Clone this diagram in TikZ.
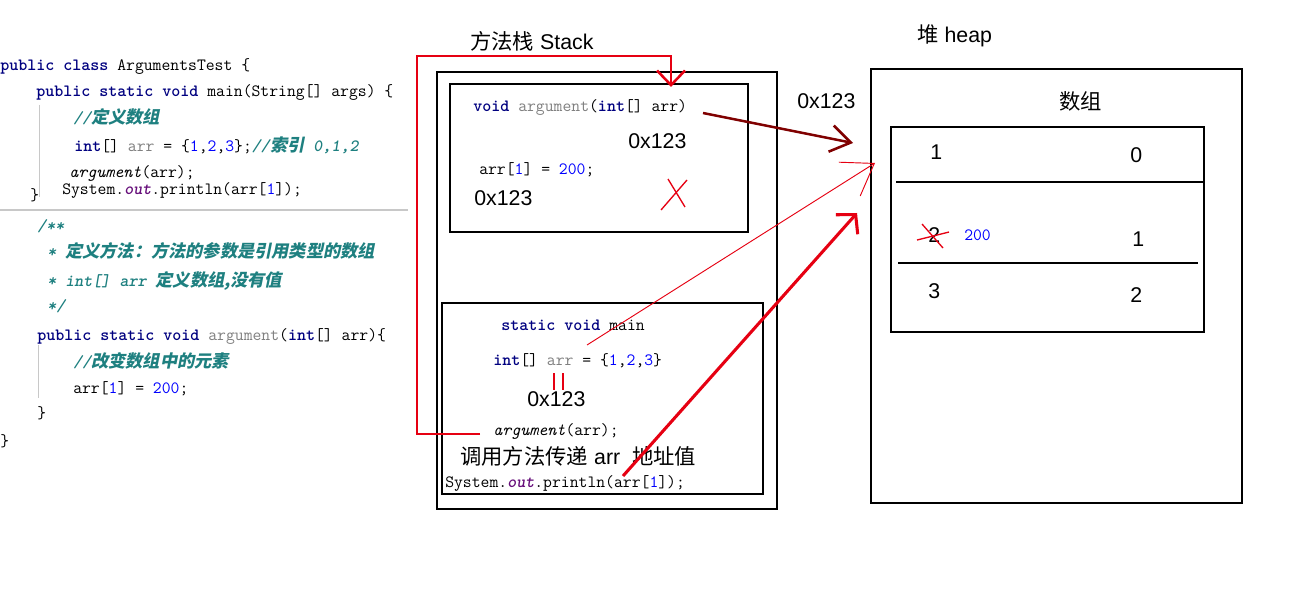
\documentclass[tikz,border=0pt]{standalone}
\usepackage{fontspec}
\setsansfont{Liberation Sans}
\newfontfamily\cjk{Noto Sans CJK SC}
\newfontfamily\cjkit{Noto Sans CJK SC}[FakeSlant=0.2]
\usetikzlibrary{arrows.meta}
\definecolor{kwc}{RGB}{0,0,128}
\definecolor{cmc}{RGB}{30,128,128}
\definecolor{grc}{RGB}{128,128,128}
\definecolor{nbc}{RGB}{0,0,255}
\definecolor{puc}{RGB}{102,14,122}
\definecolor{rdc}{RGB}{230,0,18}
\definecolor{mrc}{RGB}{128,0,0}
\definecolor{sepc}{RGB}{200,200,200}
\newcommand\kwd[1]{\textcolor{kwc}{\bfseries #1}}
\newcommand\gry[1]{\textcolor{grc}{#1}}
\newcommand\num[1]{\textcolor{nbc}{#1}}
\newcommand\cmt[1]{\textcolor{cmc}{\bfseries\slshape #1}}
\newcommand\zhi[1]{{\cjkit\upshape #1}}
\newcommand\zh[1]{{\cjk #1}}
\newcommand\outk{\textcolor{puc}{\bfseries\slshape out}}
\tikzset{
  code/.style={anchor=base west, inner sep=0pt, font=\ttfamily\fontsize{12.9}{15}\selectfont},
  lbl/.style={anchor=base west, inner sep=0pt, font=\sffamily\fontsize{16}{19}\selectfont},
  box/.style={draw=black, line width=1.1pt},
  redthick/.style={draw=rdc, line width=1.9pt},
}
\begin{document}
\begin{tikzpicture}[x=0.75pt,y=-0.75pt]
\fill[white] (0,0) rectangle (1295,598);
\useasboundingbox (0,0) rectangle (1295,598);

% ---------- left code ----------
\draw[sepc, line width=0.6pt] (39,105) -- (39,197);
\draw[sepc, line width=0.6pt] (38,345) -- (38,398);
\draw[sepc, line width=1pt] (0,210) -- (408,210);
\node[code] (l1) at (0,71) {\kwd{public} \kwd{class} ArgumentsTest \{};
\node[code] (l2) at (36,97) {\kwd{public} \kwd{static} \kwd{void} main(String[] args) \{};
\node[code] (l3) at (73,124) {\cmt{//\zhi{定义数组}}};
\node[code] (l4) at (74,152) {\kwd{int}[] \gry{arr} = \{\num{1},\num{2},\num{3}\};\cmt{//\zhi{索引} 0,1,2}};
\node[code] (l5) at (69,178) {\textit{argument}(arr);};
\node[code] (l6) at (62,195) {System.\outk.println(arr[\num{1}]);};
\node[code] (l7) at (30,201) {\}};
\node[code] (l8) at (37,232) {\cmt{/**}};
\node[code] (l9) at (47,258) {\cmt{* \zhi{定义方法：方法的参数是引用类型的数组}}};
\node[code] (l10) at (47,287) {\cmt{* int[] arr \zhi{定义数组,没有值}}};
\node[code] (l11) at (47,312) {\cmt{*/}};
\node[code] (l12) at (37,340) {\kwd{public} \kwd{static} \kwd{void} \gry{argument}(\kwd{int}[] arr)\{};
\node[code] (l13) at (73,368) {\cmt{//\zhi{改变数组中的元素}}};
\node[code] (l14) at (73,393) {arr[\num{1}] = \num{200};};
\node[code] (l15) at (37,418) {\}};
\node[code] (l16) at (0,446) {\}};

% ---------- stack ----------
\node[lbl] (stt) at (470,50) {\zh{方法栈} Stack};
\draw[box] (437,72) rectangle (777,509);
\draw[box] (450,84) rectangle (748,232);
\draw[box] (442,303) rectangle (763,494);

\node[code] (s1) at (473,112) {\kwd{void} \gry{argument}(\kwd{int}[] arr)};
\node[lbl] (s2) at (628,149) {0x123};
\node[code] (s3) at (479,175) {arr[\num{1}] = \num{200};};
\node[lbl] (s4) at (474,206) {0x123};
\draw[rdc, line width=1pt] (661,210) -- (687,180);
\draw[rdc, line width=1pt] (668,179) -- (685,207);

\node[code] (m1t) at (501,331) {\kwd{static} \kwd{void} main};
\node[code] (m2t) at (493,366) {\kwd{int}[] \gry{arr} = \{\num{1},\num{2},\num{3}\}};
\draw[rdc, line width=1pt] (554,373) -- (554,390);
\draw[rdc, line width=1pt] (563,373) -- (563,390);
\node[lbl] (m3t) at (527,406) {0x123};
\node[code] (m4t) at (493,435) {\textit{argument}(arr);};
\node[lbl] (m5t) at (460,464) {\zh{调用方法传递} arr\ \ \zh{地址值}};
\node[code] (m6t) at (445,487) {System.\outk.println(arr[\num{1}]);};

% ---------- heap ----------
\node[lbl] (hpt) at (917,43) {\zh{堆} heap};
\node[lbl] (adr) at (797,109) {0x123};
\draw[box] (871,69) rectangle (1242,503);
\node[lbl] (arrt) at (1059,110) {\zh{数组}};
\draw[box] (891,127) rectangle (1204,332);
\draw[black, line width=1.1pt] (896,182) -- (1203,182);
\draw[black, line width=1.1pt] (898,263) -- (1198,263);
\node[lbl] (v0) at (930,160) {1};
\node[lbl] (i0) at (1130,163) {0};
\node[lbl] (v1) at (928,243) {2};
\draw[rdc, line width=1pt] (917,240) -- (949,232);
\draw[rdc, line width=1pt] (922,224) -- (943,248);
\node[code] (v1n) at (964,241) {\num{200}};
\node[lbl] (i1) at (1132,247) {1};
\node[lbl] (v2) at (928,299) {3};
\node[lbl] (i2) at (1130,303) {2};

% ---------- connectors ----------
\coordinate (a1) at (480,434);
\coordinate (a2) at (671,87);
\draw[redthick, -{Straight Barb[length=11pt,width=21pt]}] (a1) -- (417,434) -- (417,56) -- (671,56) -- (a2);

\coordinate (r1) at (703,113);
\coordinate (r2) at (853,143);
\draw[mrc, line width=1.9pt, -{Straight Barb[length=15pt,width=20pt]}] (r1) -- (r2);

\coordinate (t1) at (587,345);
\coordinate (t2) at (875,163);
\draw[rdc, line width=0.7pt, -{Straight Barb[length=22pt,width=30pt]}] (t1) -- (t2);

\coordinate (k1) at (623,476);
\coordinate (k2) at (857,213);
\draw[rdc, line width=2.3pt, -{Straight Barb[length=10pt,width=22pt]}] (k1) -- (k2);
\end{tikzpicture}
\end{document}
